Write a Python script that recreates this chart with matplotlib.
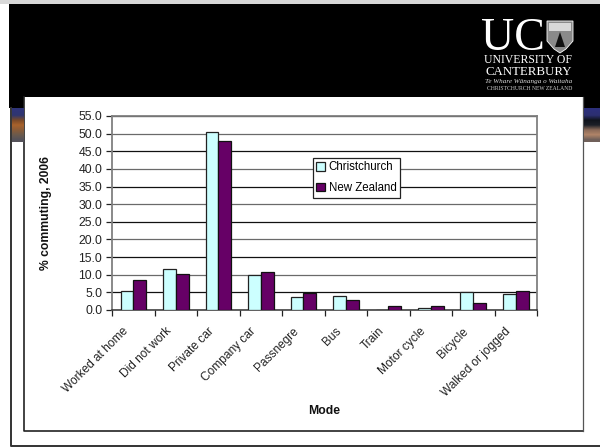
import numpy as np
import matplotlib
matplotlib.use("Agg")
import matplotlib.pyplot as plt
from matplotlib.colors import to_rgb
from matplotlib.patches import Rectangle, Polygon

plt.rcParams['font.family'] = ['Liberation Sans', 'DejaVu Sans']

W, H = 600, 447

modes = ['Worked at home', 'Did not work', 'Private car', 'Company car', 'Passnegre',
         'Bus', 'Train', 'Motor cycle', 'Bicycle', 'Walked or jogged']
christchurch = [5.3, 11.6, 50.5, 9.8, 3.6, 3.9, 0.0, 0.7, 5.0, 4.5]
new_zealand = [8.4, 10.3, 47.8, 10.8, 4.8, 2.9, 1.0, 1.0, 1.9, 5.3]
y_ticks = [0, 5, 10, 15, 20, 25, 30, 35, 40, 45, 50, 55]

left_strip = ['#2f3478', '#30366f', '#7a4a28', '#a8622c', '#8a5c38', '#6b5a4c', '#55525a']
right_strip = ['#2c2f7a', '#2c2f70', '#10141c', '#1c2028', '#8a6a58', '#b08468', '#70605a']


def axes_px(fig, x0, y0, x1, y1, **kw):
    # add_axes with pixel coordinates measured from the top left
    return fig.add_axes([x0 / W, 1 - y1 / H, (x1 - x0) / W, (y1 - y0) / H], **kw)


def draw_strip(fig, colors, x0, y0, x1, y1):
    ax = axes_px(fig, x0, y0, x1, y1)
    img = np.array([[to_rgb(c)] for c in colors])
    ax.imshow(img, aspect='auto', interpolation='bilinear')
    ax.axis('off')


fig = plt.figure(figsize=(W / 100, H / 100), dpi=100, facecolor='white')

# slide background, header and frames in pixel space
bg = fig.add_axes([0, 0, 1, 1])
bg.set_xlim(0, W)
bg.set_ylim(H, 0)
bg.axis('off')
bg.add_patch(Rectangle((0, 0), W, 4, fc='#d8d8d8', ec='none'))
bg.add_patch(Rectangle((9, 4), W - 9, 104, fc='black', ec='none'))
bg.plot([10.5, 10.5, W], [108, 445.5, 445.5], color='#333333', lw=1.4)
bg.add_patch(Rectangle((24, 97), 559, 334, fc='white', ec='none', zorder=3))
bg.plot([24, 24, 583], [97, 431, 431], color='#222222', lw=1.2, zorder=4)
bg.plot([583, 583], [97, 431], color='#555555', lw=0.9, zorder=4)

# university logo
bg.text(481, 50, 'UC', color='white', family='Liberation Serif', fontsize=33,
        ha='left', va='baseline')
bg.add_patch(Polygon([(547, 21), (573, 21), (573, 41), (566, 49), (560, 53), (554, 49), (547, 41)],
                     fc='#8a8a8a', ec='white', lw=0.6))
bg.add_patch(Rectangle((549, 23), 22, 8, fc='#d8d8d8', ec='none'))
bg.add_patch(Polygon([(560, 32), (565, 47), (555, 47)], fc='#111111', ec='none'))
bg.text(572, 63, 'UNIVERSITY OF', color='white', family='Liberation Serif', fontsize=8.5,
        ha='right', va='baseline')
bg.text(572, 75, 'CANTERBURY', color='white', family='Liberation Serif', fontsize=9.3,
        ha='right', va='baseline')
bg.text(572, 83.5, 'Te Whare Wānanga o Waitaha', color='#dddddd', family='Liberation Serif',
        style='italic', fontsize=5.1, ha='right', va='baseline')
bg.text(572, 89.5, 'CHRISTCHURCH NEW ZEALAND', color='#cccccc', family='Liberation Serif',
        fontsize=4.1, ha='right', va='baseline')

draw_strip(fig, left_strip, 12, 108, 24, 142)
draw_strip(fig, right_strip, 584, 108, 600, 142)

# commuting chart
ax = axes_px(fig, 112, 116, 537, 310)
ax.set_zorder(5)
ax.patch.set_alpha(0)
x = np.arange(len(modes))
width = 0.3
ax.bar(x - width / 2, christchurch, width, color='#ccffff', edgecolor='#222222', linewidth=0.9,
       label='Christchurch', zorder=3)
ax.bar(x + width / 2, new_zealand, width, color='#660066', edgecolor='#111111', linewidth=0.9,
       label='New Zealand', zorder=3)

ax.set_xlim(-0.5, len(modes) - 0.5)
ax.set_ylim(0, 55)
ax.set_yticks(y_ticks)
ax.set_yticklabels([f'{v:.1f}' for v in y_ticks], fontsize=8.8, color='#222222')
ax.set_xticks(np.arange(len(modes) + 1) - 0.5)
ax.set_xticklabels([''] * (len(modes) + 1))
ax.tick_params(axis='x', length=4, width=0.9, color='#222222')
ax.tick_params(axis='y', length=4, width=0.9, color='#222222', pad=3)

# scaled-down hairlines come out alternately dark and grey
ax.set_axisbelow(True)
ax.grid(axis='y', linewidth=0.9, zorder=0)
for i, line in enumerate(ax.get_ygridlines()):
    line.set_color('#111111' if i % 2 == 1 else '#6a6a6a')

for side in ['top', 'left', 'right']:
    ax.spines[side].set_color('#808080')
    ax.spines[side].set_linewidth(1.3)
ax.spines['bottom'].set_color('#333333')
ax.spines['bottom'].set_linewidth(1.1)

# rotated category labels, right end under each group
for xi, mode in zip(x, modes):
    ax.annotate(mode, (xi, 0), xycoords=('data', 'axes fraction'), xytext=(-7.7, -11),
                textcoords='offset points', rotation=45, ha='right', va='top',
                rotation_mode='anchor', fontsize=8.6, color='#222222')

ax.set_ylabel('% commuting, 2006', fontsize=8.7, fontweight='bold', color='#111111', labelpad=19)
bg.text(324, 411, 'Mode', fontsize=8.8, fontweight='bold', color='#111111', ha='center',
        va='center', zorder=6)

leg = ax.legend(loc='upper left', bbox_to_anchor=((313 - 112) / 425, 1 - (158 - 116) / 194),
                fontsize=8.3, frameon=True, fancybox=False, framealpha=1, edgecolor='#222222',
                borderaxespad=0, borderpad=0.3, handlelength=0.75, handleheight=0.75,
                handletextpad=0.3, labelspacing=0.75)
leg.get_frame().set_linewidth(0.9)
leg.set_zorder(10)

fig.savefig('out.png', dpi=100, facecolor='white')
